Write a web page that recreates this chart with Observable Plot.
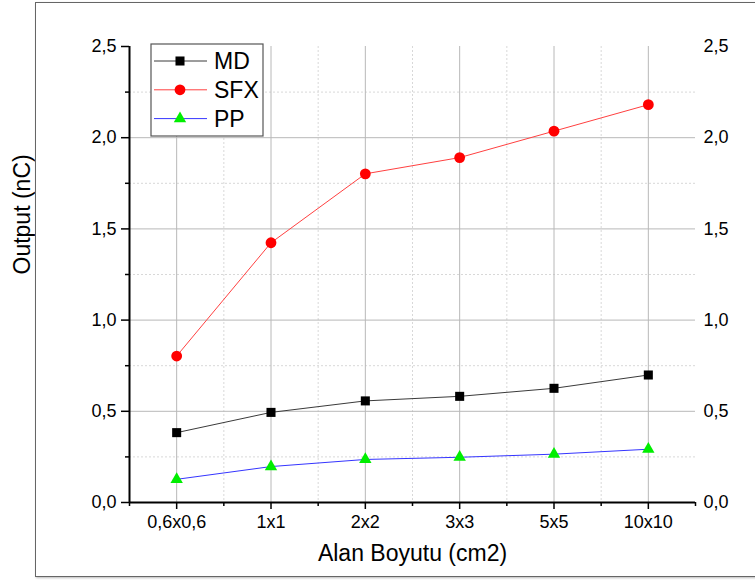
<!DOCTYPE html>
<html>
<head>
<meta charset="utf-8">
<script src="https://cdn.jsdelivr.net/npm/d3@7"></script>
<script src="https://cdn.jsdelivr.net/npm/@observablehq/plot@0.6"></script>
<style>
  html, body { margin: 0; padding: 0; background: #fff; overflow: hidden; }
  #wrap { position: relative; width: 755px; height: 581px; overflow: hidden; }
  #border { position: absolute; left: 35px; top: 2px; width: 760px; height: 573px; border: 1px solid #666; box-shadow: 1px 1px 2px #bbb; pointer-events: none; }
  #legend { position: absolute; left: 0; top: 0; pointer-events: none; }
</style>
</head>
<body>
<div id="wrap">
  <div id="chart"></div>
  <div id="border"></div>
  <svg id="legend" width="755" height="581"></svg>
</div>
<script>
// ---- data ----
const categories = ["0,6x0,6", "1x1", "2x2", "3x3", "5x5", "10x10"];
const seriesNames = ["MD", "SFX", "PP"];
const mdValues  = [0.383, 0.494, 0.557, 0.582, 0.626, 0.699];
const sfxValues = [0.803, 1.424, 1.802, 1.891, 2.036, 2.181];
const ppValues  = [0.127, 0.197, 0.236, 0.248, 0.265, 0.292];
const yMajorTicks = [0, 0.5, 1.0, 1.5, 2.0, 2.5];
const yTickLabels = ["0,0", "0,5", "1,0", "1,5", "2,0", "2,5"];
const yMinorTicks = [0.25, 0.75, 1.25, 1.75, 2.25];
const xTitle = "Alan Boyutu (cm2)";
const yTitle = "Output (nC)";

// ---- styles ----
const styles = {
  MD:  {line: "#3a3a3a", fill: "#000000", symbol: "square",   r: 5.1},
  SFX: {line: "#ff4040", fill: "#ff0000", symbol: "circle",   r: 5.4},
  PP:  {line: "#3535ff", fill: "#00ee00", symbol: "triangle", r: 4.6}
};
const seriesValues = {MD: mdValues, SFX: sfxValues, PP: ppValues};

const idx = categories.map((_, i) => i);
const rows = [];
for (const s of seriesNames) seriesValues[s].forEach((v, i) => rows.push({series: s, i, v}));

const midpoints = idx.slice(0, -1).map(i => i + 0.5);
const edgesAndMids = [-0.5, ...midpoints, categories.length - 0.5];
const yInnerMajor = yMajorTicks.filter(v => v > 0 && v < 2.5);
const fmtY = v => yTickLabels[yMajorTicks.indexOf(v)];

const font = "'Liberation Sans', Arial, sans-serif";

const marks = [
  Plot.ruleY(yMinorTicks, {stroke: "#d8d8d8", strokeDasharray: "2,2"}),
  Plot.ruleX(midpoints, {stroke: "#d8d8d8", strokeDasharray: "2,2"}),
  Plot.ruleY(yInnerMajor, {stroke: "#b8b8b8"}),
  Plot.ruleX(idx, {stroke: "#b8b8b8"}),
];
for (const s of seriesNames) {
  const st = styles[s];
  const d = rows.filter(r => r.series === s);
  marks.push(Plot.line(d, {x: "i", y: "v", stroke: st.line, strokeWidth: 1}));
}
for (const s of seriesNames) {
  const st = styles[s];
  const d = rows.filter(r => r.series === s);
  marks.push(Plot.dot(d, {x: "i", y: "v", symbol: () => st.symbol, fill: st.fill, stroke: "none", r: st.r}));
}
marks.push(
  Plot.axisX({ticks: idx, tickFormat: i => categories[i], tickSize: 7, tickPadding: 6, fontSize: 18, stroke: "#000", strokeWidth: 1.5, label: null}),
  Plot.axisX({ticks: edgesAndMids, text: null, tickSize: 4, stroke: "#000", strokeWidth: 1.5, label: null}),
  Plot.axisY({ticks: yMajorTicks, tickFormat: fmtY, tickSize: 8, tickPadding: 5, fontSize: 18, stroke: "#000", strokeWidth: 1.5, label: null}),
  Plot.axisY({ticks: yMinorTicks, text: null, tickSize: 4, stroke: "#000", strokeWidth: 1.5, label: null}),
  Plot.axisY({anchor: "right", ticks: yMajorTicks, tickFormat: fmtY, tickSize: 0, tickPadding: 8, fontSize: 18, label: null}),
  Plot.ruleY([0], {stroke: "#000", strokeWidth: 2}),
  Plot.ruleX([-0.5], {stroke: "#000", strokeWidth: 2}),
  Plot.text([xTitle], {text: d => d, frameAnchor: "bottom", dy: 51, fontSize: 23, fill: "#000", lineAnchor: "middle"}),
  Plot.text([yTitle], {text: d => d, frameAnchor: "left", dx: -107, rotate: -90, fontSize: 23, fill: "#000", lineAnchor: "middle"})
);

const chart = Plot.plot({
  width: 755,
  height: 581,
  marginLeft: 129,
  marginRight: 60,
  marginTop: 46,
  marginBottom: 79,
  style: {fontFamily: font, color: "#000", background: "#fff", overflow: "visible"},
  x: {type: "linear", domain: [-0.5, categories.length - 0.5], label: null},
  y: {domain: [0, 2.5], label: null},
  marks
});
document.getElementById("chart").appendChild(chart);

// ---- legend ----
const lg = d3.select("#legend");
const box = {x: 151, y: 44, w: 112, h: 92};
lg.append("rect").attr("x", box.x).attr("y", box.y).attr("width", box.w).attr("height", box.h)
  .attr("fill", "#fff").attr("stroke", "#555").attr("stroke-width", 1.2);
const symMap = {square: d3.symbolSquare, circle: d3.symbolCircle, triangle: d3.symbolTriangle};
seriesNames.forEach((s, k) => {
  const st = styles[s];
  const cy = box.y + 17 + k * 28.8;
  lg.append("line").attr("x1", box.x + 3).attr("x2", box.x + 56).attr("y1", cy).attr("y2", cy)
    .attr("stroke", st.line).attr("stroke-width", 1);
  lg.append("path").attr("d", d3.symbol(symMap[st.symbol], Math.PI * st.r * st.r)())
    .attr("transform", `translate(${box.x + 29},${cy})`).attr("fill", st.fill);
  lg.append("text").attr("x", box.x + 63).attr("y", cy).attr("dy", "0.36em")
    .attr("font-family", font).attr("font-size", 23).attr("fill", "#000").text(s);
});
</script>
</body>
</html>
